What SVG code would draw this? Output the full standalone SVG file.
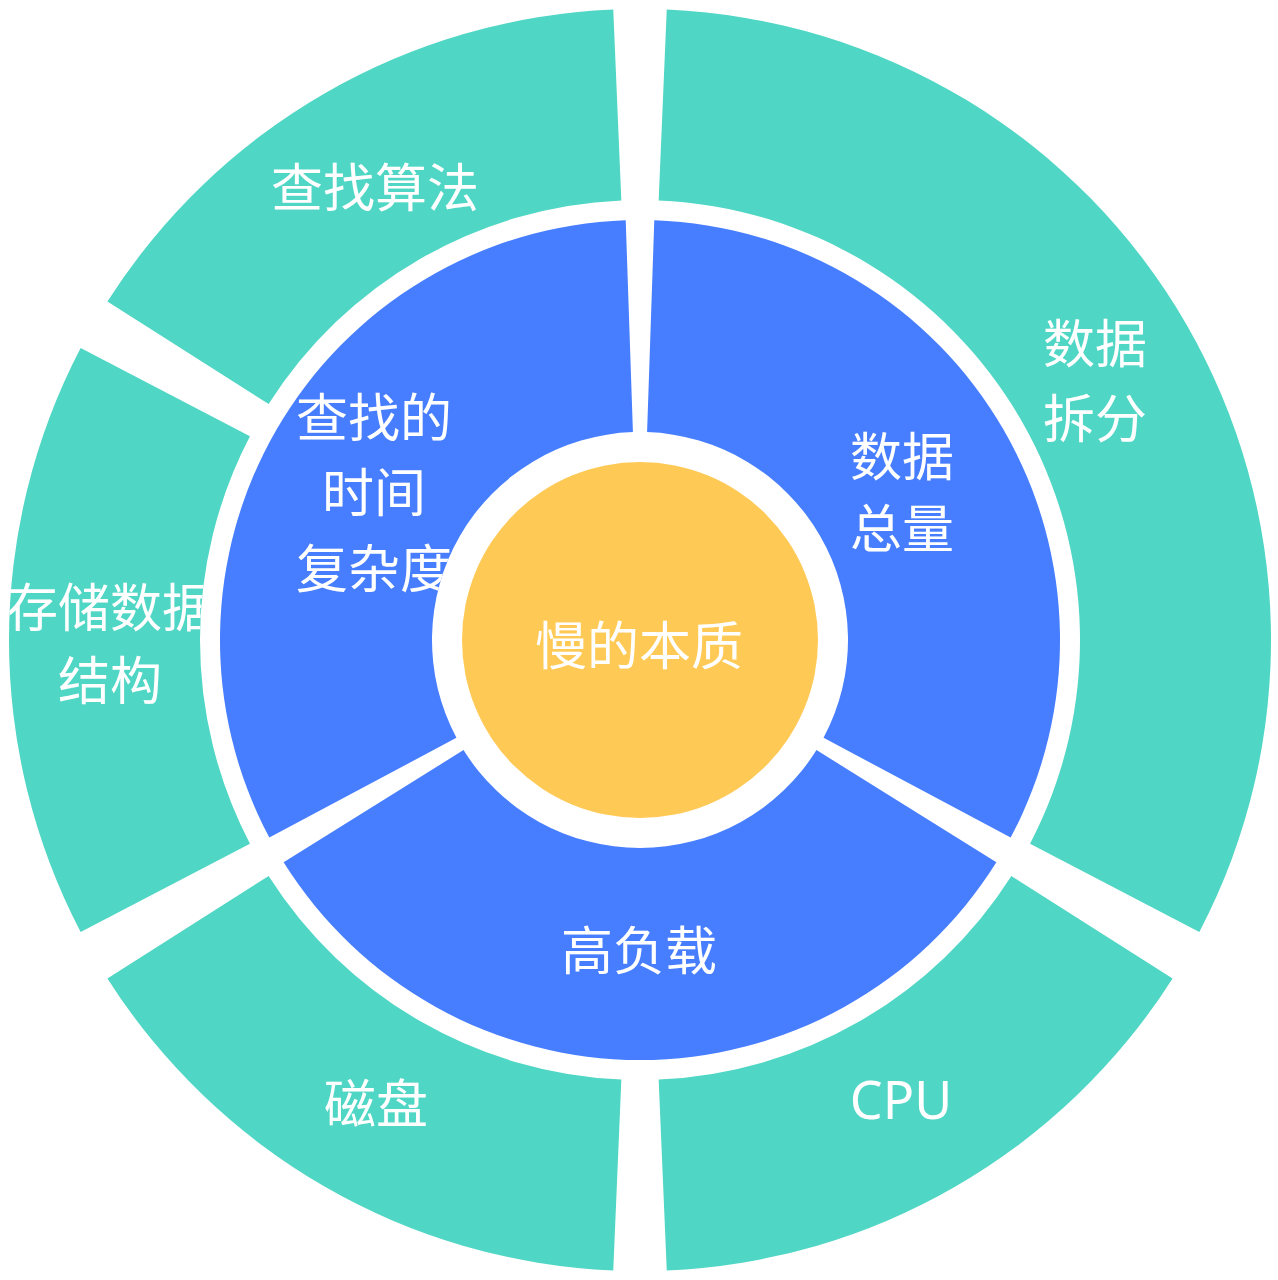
<svg xmlns="http://www.w3.org/2000/svg" xmlns:xlink="http://www.w3.org/1999/xlink" width="1278" height="1280" viewBox="0 0 1278 1280">
  <style>
    .teal { fill: #4FD6C4; }
    .blue { fill: #467EFF; }
    .core { fill: #FFC955; }
    .lbl { fill: #FFFFFF; font-family: "Noto Sans", "Noto Sans CJK SC", sans-serif; font-size: 52px; text-anchor: middle; }
  </style>
  <defs>
    <path id="p-total" d="M 654.29 220.24 A 420 420 0 0 1 1010.67 837.50 L 823.57 737.81 A 208 208 0 0 0 647.08 432.12 Z"/>
    <path id="p-load" d="M 996.37 862.26 A 420 420 0 0 1 283.63 862.26 L 463.51 750.07 A 208 208 0 0 0 816.49 750.07 Z"/>
    <path id="p-time" d="M 269.33 837.50 A 420 420 0 0 1 625.71 220.24 L 632.92 432.12 A 208 208 0 0 0 456.43 737.81 Z"/>
    <path id="p-split" d="M 666.75 9.57 A 631 631 0 0 1 1199.35 932.05 L 1030.04 843.65 A 440 440 0 0 0 658.66 200.40 Z"/>
    <path id="p-cpu" d="M 1172.60 978.39 A 631 631 0 0 1 666.75 1270.43 L 658.66 1079.60 A 440 440 0 0 0 1011.38 875.96 Z"/>
    <path id="p-disk" d="M 613.25 1270.43 A 631 631 0 0 1 107.40 978.39 L 268.62 875.96 A 440 440 0 0 0 621.34 1079.60 Z"/>
    <path id="p-store" d="M 80.65 932.05 A 631 631 0 0 1 80.65 347.95 L 249.96 436.35 A 440 440 0 0 0 249.96 843.65 Z"/>
    <path id="p-algo" d="M 107.40 301.61 A 631 631 0 0 1 613.25 9.57 L 621.34 200.40 A 440 440 0 0 0 268.62 404.04 Z"/>
    <clipPath id="c-time"><use xlink:href="#p-time"/></clipPath>
    <clipPath id="c-store"><use xlink:href="#p-store"/></clipPath>
  </defs>
  <rect x="0" y="0" width="1278" height="1280" fill="#FFFFFF"/>

  <g id="connectors"></g>

  <g id="node-core">
    <circle class="core" cx="640" cy="640" r="178"/>
    <text class="lbl" x="639" y="665">慢的本质</text>
  </g>

  <g id="node-total">
    <use xlink:href="#p-total" class="blue"/>
    <text class="lbl" x="902" y="476">数据</text>
    <text class="lbl" x="902" y="548">总量</text>
  </g>

  <g id="node-load">
    <use xlink:href="#p-load" class="blue"/>
    <text class="lbl" x="639" y="970">高负载</text>
  </g>

  <g id="node-time">
    <use xlink:href="#p-time" class="blue"/>
    <g clip-path="url(#c-time)">
      <text class="lbl" x="374" y="437">查找的</text>
      <text class="lbl" x="374" y="512">时间</text>
      <text class="lbl" x="374" y="588">复杂度</text>
    </g>
  </g>

  <g id="node-split">
    <use xlink:href="#p-split" class="teal"/>
    <text class="lbl" x="1095" y="363">数据</text>
    <text class="lbl" x="1095" y="438">拆分</text>
  </g>

  <g id="node-cpu">
    <use xlink:href="#p-cpu" class="teal"/>
    <text class="lbl" x="901" y="1119">CPU</text>
  </g>

  <g id="node-disk">
    <use xlink:href="#p-disk" class="teal"/>
    <text class="lbl" x="376" y="1123">磁盘</text>
  </g>

  <g id="node-store">
    <use xlink:href="#p-store" class="teal"/>
    <g clip-path="url(#c-store)">
      <text class="lbl" x="110" y="627">存储数据</text>
      <text class="lbl" x="110" y="700">结构</text>
    </g>
  </g>

  <g id="node-algo">
    <use xlink:href="#p-algo" class="teal"/>
    <text class="lbl" x="375" y="207">查找算法</text>
  </g>
</svg>
